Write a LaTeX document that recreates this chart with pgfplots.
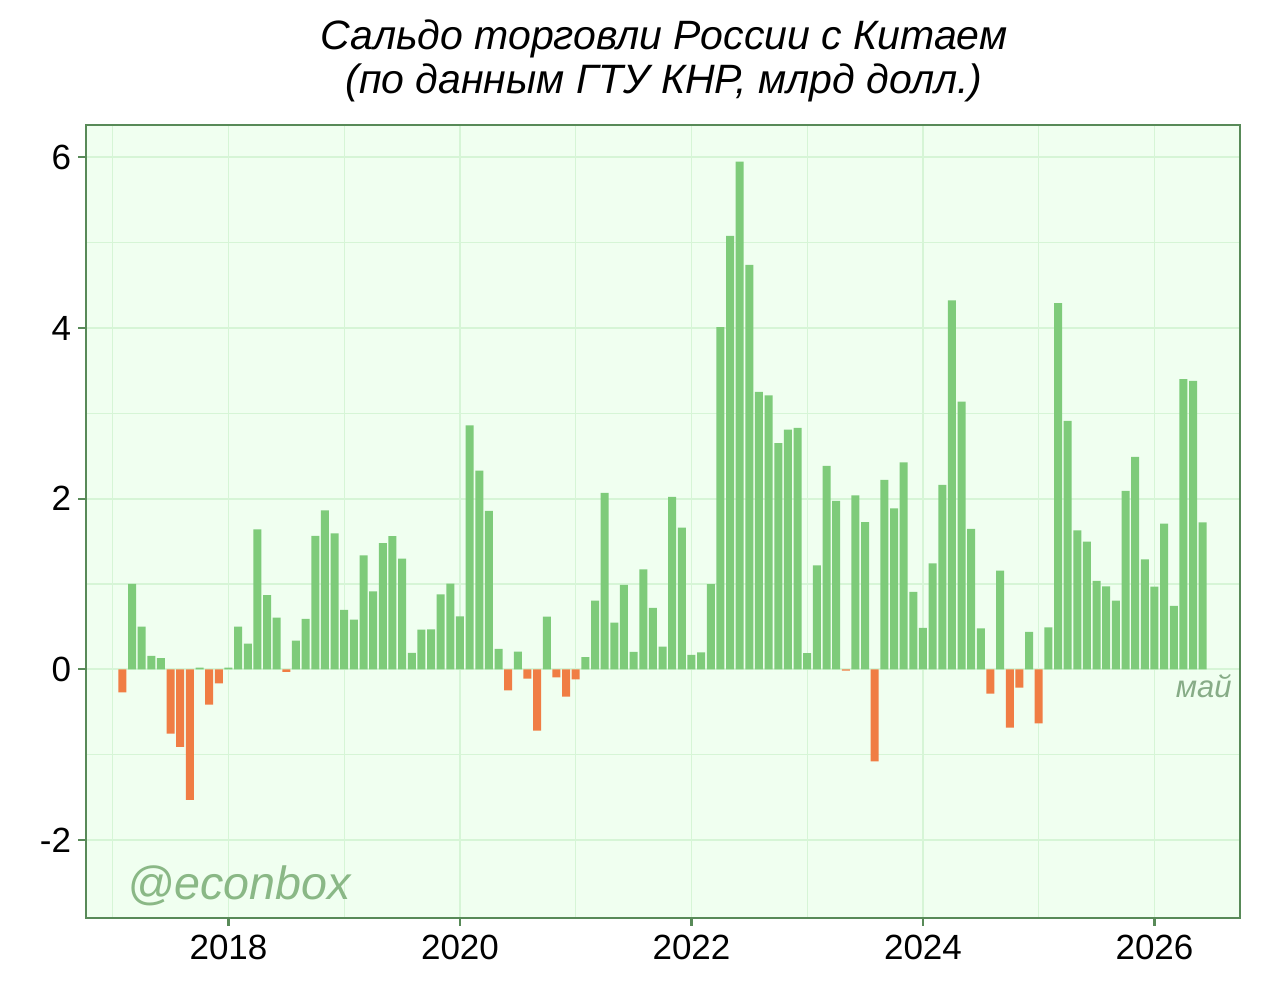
\documentclass[border=0pt]{standalone}
\usepackage{fontspec}
\setmainfont{Liberation Sans}
\usepackage{pgfplots}
\pgfplotsset{compat=1.18}
\usepackage{pgfplotstable}
\definecolor{bgc}{RGB}{240,255,240}
\definecolor{gridc}{RGB}{214,245,214}
\definecolor{borderc}{RGB}{88,138,88}
\definecolor{barg}{RGB}{126,203,122}
\definecolor{baro}{RGB}{240,125,68}
\definecolor{wm}{RGB}{138,184,134}
\definecolor{mayc}{RGB}{135,172,135}

\pgfplotstableread{
n v
1 -0.27
2 1.00
3 0.50
4 0.156
5 0.13
6 -0.755
7 -0.91
8 -1.53
9 0.02
10 -0.415
11 -0.165
12 0.02
13 0.50
14 0.30
15 1.64
16 0.87
17 0.605
18 -0.03
19 0.336
20 0.59
21 1.5625
22 1.863
23 1.594
24 0.695
25 0.582
26 1.336
27 0.914
28 1.477
29 1.559
30 1.297
31 0.191
32 0.465
33 0.469
34 0.879
35 1.004
36 0.621
37 2.859
38 2.328
39 1.855
40 0.238
41 -0.246
42 0.207
43 -0.109
44 -0.719
45 0.617
46 -0.094
47 -0.32
48 -0.117
49 0.141
50 0.805
51 2.066
52 0.547
53 0.988
54 0.203
55 1.172
56 0.719
57 0.266
58 2.02
59 1.66
60 0.17
61 0.198
62 0.997
63 4.01
64 5.08
65 5.95
66 4.74
67 3.25
68 3.21
69 2.65
70 2.81
71 2.83
72 0.19
73 1.218
74 2.385
75 1.975
76 -0.015
77 2.037
78 1.726
79 -1.078
80 2.219
81 1.887
82 2.426
83 0.906
84 0.484
85 1.242
86 2.16
87 4.324
88 3.137
89 1.645
90 0.48
91 -0.285
92 1.156
93 -0.684
94 -0.215
95 0.4375
96 -0.633
97 0.49
98 4.29
99 2.91
100 1.629
101 1.496
102 1.035
103 0.973
104 0.805
105 2.09
106 2.49
107 1.289
108 0.969
109 1.707
110 0.742
111 3.40
112 3.38
113 1.723
}\data

\begin{document}
\begin{tikzpicture}
\useasboundingbox (-43pt,-33pt) rectangle (597pt,459pt);
\begin{axis}[
  at={(0pt,0pt)}, anchor=south west, scale only axis,
  width=577pt, height=396.5pt,
  xmin=2016.769, xmax=2026.739, ymin=-2.915, ymax=6.379,
  axis background/.style={fill=bgc},
  axis line style={draw=borderc, line width=1.1pt},
  xtick={2018,2020,2022,2024,2026}, xticklabels={2018,2020,2022,2024,2026},
  minor xtick={2017,2019,2021,2023,2025},
  ytick={-2,0,2,4,6}, yticklabels={-2,0,2,4,6},
  minor ytick={-1,1,3,5},
  grid=both,
  major grid style={draw=gridc, line width=0.9pt},
  minor grid style={draw=gridc, line width=0.6pt},
  tick align=outside, xtick pos=left, ytick pos=left,
  major tick length=4pt, minor tick length=0pt,
  tick style={draw=borderc, line width=1.1pt},
  tick label style={font=\fontsize{17.5}{19}\selectfont, text=black},
  x tick label style={yshift=-1.2pt},
  ybar, bar width=0.0691, bar shift=0pt,
]
\addplot[fill=barg, draw=none, restrict y to domain=0:100]
  table[x expr=2017+\thisrow{n}/12, y=v]{\data};
\addplot[fill=baro, draw=none, restrict y to domain=-100:0]
  table[x expr=2017+\thisrow{n}/12, y=v]{\data};
\end{axis}
\node[anchor=base, inner sep=0pt, font=\fontsize{20.5}{24}\selectfont\itshape] at (289pt,434pt) {Сальдо торговли России с Китаем};
\node[anchor=base, inner sep=0pt, font=\fontsize{20.5}{24}\selectfont\itshape] at (289pt,412pt) {(по данным ГТУ КНР, млрд долл.)};
\node[anchor=base west, inner sep=0pt, font=\fontsize{23.3}{26}\selectfont\itshape, text=wm] at (20.5pt,9pt) {@econbox};
\node[anchor=base east, inner sep=0pt, font=\fontsize{15.5}{18}\selectfont\itshape, text=mayc] at (573pt,110pt) {май};
\end{tikzpicture}
\end{document}
